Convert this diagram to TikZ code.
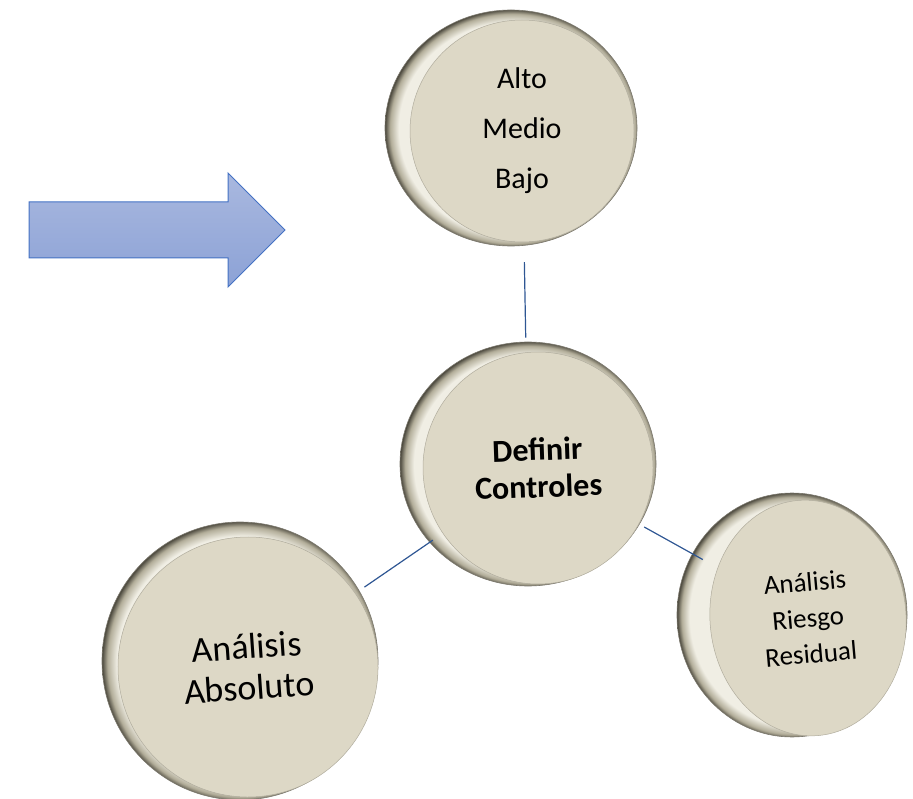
\documentclass[tikz,border=0pt]{standalone}
\usepackage{fontspec}
\setmainfont{Carlito}
\usetikzlibrary{shapes.geometric}
\definecolor{cara}{HTML}{DDD8C6}
\definecolor{bordeoscuro}{HTML}{4A473C}
\definecolor{bordemedio}{HTML}{B3AE9A}
\definecolor{bordeclaro}{HTML}{F0EEE4}
\definecolor{azulborde}{HTML}{4472C4}
\definecolor{azularriba}{HTML}{A9B8DF}
\definecolor{azulabajo}{HTML}{8CA2D6}
\definecolor{lineaazul}{HTML}{2E5693}
\pgfdeclareradialshading{aro}{\pgfpoint{0.6bp}{-0.3bp}}{color(0bp)=(bordeclaro); color(22.6bp)=(bordeclaro); color(24.3bp)=(bordemedio); color(25.3bp)=(bordeoscuro); color(50bp)=(bordeoscuro)}
\tikzstyle{disco} = [ellipse, shading=aro, draw=bordeoscuro!70!bordeclaro, line width=0.6pt, inner sep=0pt]
\tikzstyle{cara} = [ellipse, fill=cara, draw=cara!80!black, line width=0.5pt, inner sep=0pt, align=center, text=black]
\tikzstyle{conector} = [draw=lineaazul, line width=1.2pt]
\tikzstyle{flecha} = [draw=azulborde, line width=1pt, top color=azularriba, bottom color=azulabajo]

\begin{document}
\begin{tikzpicture}[x=1pt, y=-1pt]
\useasboundingbox (0,0) rectangle (913,799);

% flecha de entrada
\path [flecha] (29,202) -- (228,202) -- (228,173) -- (285,230) -- (228,287) -- (228,258) -- (29,258) -- cycle;

% niveles
\node (discoA) [disco, minimum width=252pt, minimum height=236pt] at (511,128) {};
\node (caraA) [cara, minimum width=224pt, minimum height=222pt, font=\fontsize{30}{50}\selectfont] at (522,131) {Alto\\Medio\\Bajo};

% centro
\node (discoC) [disco, minimum width=256pt, minimum height=244pt] at (528,464) {};
\node (caraC) [cara, minimum width=230pt, minimum height=232pt, font=\fontsize{32}{37}\selectfont\bfseries, rotate=2] at (538,468) {Definir\\Controles};

% absoluto
\node (discoL) [disco, minimum width=276pt, minimum height=278pt] at (240,661) {};
\node (caraL) [cara, minimum width=260pt, minimum height=260pt, font=\fontsize{36}{41}\selectfont, rotate=4] at (248,667) {Análisis\\Absoluto};

% residual
\node (discoR) [disco, minimum width=230pt, minimum height=244pt] at (792,615) {};
\node (caraR) [cara, minimum width=196pt, minimum height=236pt, font=\fontsize{27}{36}\selectfont, rotate=5] at (808,618) {Análisis\\Riesgo\\Residual};

\draw [conector, shorten <=20pt, shorten >=4pt] (caraA) -- (discoC);
\draw [conector, shorten <=12pt, shorten >=11pt] (caraC) -- (caraL);
\draw [conector, shorten <=6pt, shorten >=17pt] (caraC) -- (caraR);

\end{tikzpicture}
\end{document}
